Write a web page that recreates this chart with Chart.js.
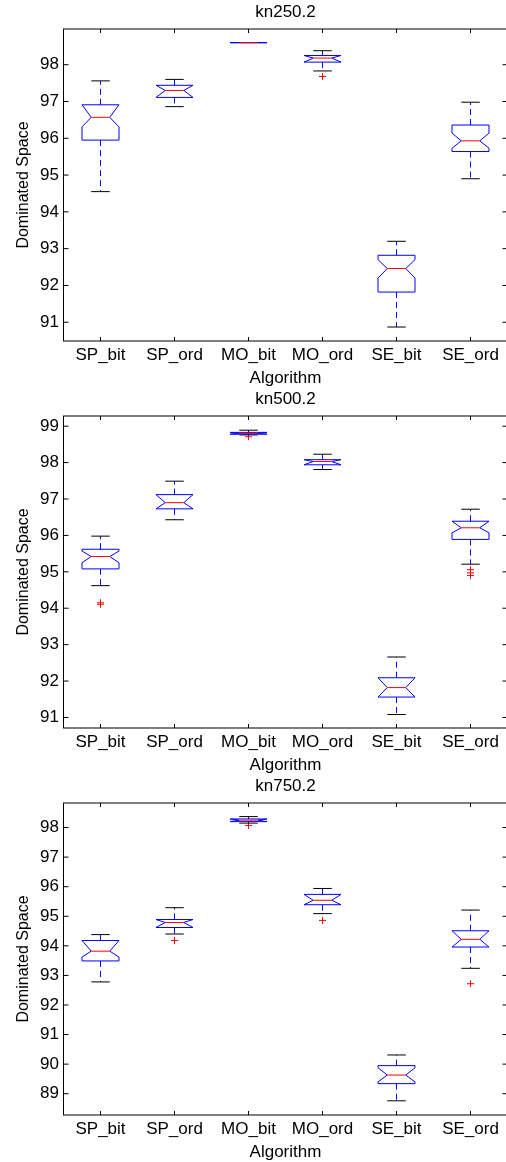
<!DOCTYPE html>
<html>
<head>
<meta charset="utf-8">
<script src="https://cdn.jsdelivr.net/npm/chart.js@4.4.0/dist/chart.umd.min.js"></script>
<style>
  html, body { margin: 0; padding: 0; background: #fff; width: 506px; height: 1162px; overflow: hidden; }
  canvas { display: block; }
</style>
</head>
<body>
<canvas id="kn250" width="512" height="387"></canvas>
<canvas id="kn500" width="512" height="387"></canvas>
<canvas id="kn750" width="512" height="387"></canvas>
<script>
// --- DATA ---

const algorithms = ['SP_bit', 'SP_ord', 'MO_bit', 'MO_ord', 'SE_bit', 'SE_ord'];

// kn250.2
const kn250Range = [90.49, 98.97];
const kn250Low = [94.55, 96.86, 98.60, 97.83, 90.87, 94.90];
const kn250Q1 = [95.95, 97.11, 98.60, 98.07, 91.82, 95.64];
const kn250NotchLow = [96.31, 97.11, 98.60, 98.07, 92.20, 95.73];
const kn250Median = [96.57, 97.30, 98.60, 98.18, 92.46, 95.93];
const kn250NotchHigh = [96.91, 97.44, 98.60, 98.25, 92.70, 96.14];
const kn250Q3 = [96.91, 97.44, 98.60, 98.25, 92.82, 96.36];
const kn250High = [97.56, 97.60, 98.60, 98.38, 93.20, 96.98];
const kn250OutlierAlg = ['MO_ord'];
const kn250OutlierVal = [97.68];

// kn500.2
const kn500Range = [90.71, 99.28];
const kn500Low = [94.62, 96.43, 98.76, 97.81, 91.08, 95.21];
const kn500Q1 = [95.08, 96.73, 98.78, 97.94, 91.56, 95.89];
const kn500NotchLow = [95.25, 96.73, 98.78, 97.94, 91.56, 96.07];
const kn500Median = [95.42, 96.90, 98.80, 98.03, 91.82, 96.21];
const kn500NotchHigh = [95.57, 97.12, 98.83, 98.08, 92.09, 96.39];
const kn500Q3 = [95.62, 97.12, 98.83, 98.08, 92.09, 96.39];
const kn500High = [95.98, 97.49, 98.89, 98.23, 92.66, 96.72];
const kn500OutlierAlg = ['SP_bit', 'SP_bit', 'MO_bit', 'SE_ord', 'SE_ord', 'SE_ord'];
const kn500OutlierVal = [94.15, 94.11, 98.71, 95.06, 94.97, 94.90];

// kn750.2
const kn750Range = [88.28, 98.83];
const kn750Low = [92.78, 94.40, 98.15, 95.09, 88.76, 93.24];
const kn750Q1 = [93.49, 94.62, 98.20, 95.39, 89.34, 93.96];
const kn750NotchLow = [93.62, 94.62, 98.20, 95.39, 89.40, 93.96];
const kn750Median = [93.82, 94.79, 98.25, 95.54, 89.63, 94.22];
const kn750NotchHigh = [94.18, 94.89, 98.29, 95.74, 89.88, 94.51];
const kn750Q3 = [94.18, 94.89, 98.29, 95.74, 89.95, 94.51];
const kn750High = [94.38, 95.29, 98.37, 95.94, 90.31, 95.21];
const kn750OutlierAlg = ['SP_ord', 'MO_bit', 'MO_ord', 'SE_ord'];
const kn750OutlierVal = [94.18, 98.07, 94.86, 92.72];

// --- PLUGINS ---

const fontFamily = "'Liberation Sans', Arial, Helvetica, sans-serif";
Chart.defaults.font.family = fontFamily;
Chart.defaults.color = '#000';

function line(ctx, x1, y1, x2, y2) {
    ctx.beginPath();
    ctx.moveTo(x1, y1);
    ctx.lineTo(x2, y2);
    ctx.stroke();
}

// notched boxes, whiskers and medians, placed with the chart's own scales
function makeBoxPlugin(s) {
    return {
        id: 'notchedBoxes',
        afterDatasetsDraw(chart) {
            const { ctx, scales: { x, y } } = chart;
            const w = (x.getPixelForValue(1) - x.getPixelForValue(0)) * 0.25;
            const py = v => y.getPixelForValue(v);
            ctx.save();
            ctx.lineWidth = 1;
            s.median.forEach((m, i) => {
                const cx = x.getPixelForValue(i);
                const lo = py(s.low[i]), q1 = py(s.q1[i]), nLo = py(s.notchLow[i]);
                const med = py(m), nHi = py(s.notchHigh[i]), q3 = py(s.q3[i]), hi = py(s.high[i]);

                // whiskers
                ctx.strokeStyle = '#0000ff';
                ctx.setLineDash([6, 4]);
                line(ctx, cx, q3, cx, hi);
                line(ctx, cx, q1, cx, lo);
                ctx.setLineDash([]);
                ctx.strokeStyle = '#000';
                line(ctx, cx - w / 2, hi, cx + w / 2, hi);
                line(ctx, cx - w / 2, lo, cx + w / 2, lo);

                // notched box
                ctx.strokeStyle = '#0000ff';
                ctx.beginPath();
                ctx.moveTo(cx - w, q3);
                ctx.lineTo(cx + w, q3);
                ctx.lineTo(cx + w, nHi);
                ctx.lineTo(cx + w / 2, med);
                ctx.lineTo(cx + w, nLo);
                ctx.lineTo(cx + w, q1);
                ctx.lineTo(cx - w, q1);
                ctx.lineTo(cx - w, nLo);
                ctx.lineTo(cx - w / 2, med);
                ctx.lineTo(cx - w, nHi);
                ctx.closePath();
                ctx.stroke();

                // median
                ctx.strokeStyle = '#ff0000';
                line(ctx, cx - w / 2, med, cx + w / 2, med);
            });
            ctx.restore();
        }
    };
}

// boxed axes with inward tick marks, and a title centred over the plot area
const framePlugin = {
    id: 'frame',
    afterDraw(chart) {
        const { ctx, chartArea: a, scales: { x, y } } = chart;
        ctx.save();
        ctx.strokeStyle = '#000';
        ctx.lineWidth = 1;
        ctx.strokeRect(a.left, a.top, a.right - a.left, a.bottom - a.top);
        y.ticks.forEach(t => {
            const p = y.getPixelForValue(t.value);
            line(ctx, a.left, p, a.left + 5, p);
            line(ctx, a.right - 5, p, a.right, p);
        });
        x.ticks.forEach((t, i) => {
            const p = x.getPixelForTick(i);
            line(ctx, p, a.top, p, a.top + 4);
            line(ctx, p, a.bottom - 4, p, a.bottom);
        });
        ctx.fillStyle = '#000';
        ctx.font = '17px ' + fontFamily;
        ctx.textAlign = 'center';
        ctx.textBaseline = 'middle';
        ctx.fillText(chart.options.plugins.frame.title, (a.left + a.right) / 2, 12);
        ctx.restore();
    }
};

// --- CHARTS ---

function buildChart(id, title, range, stats, outAlg, outVal) {
    return new Chart(document.getElementById(id), {
        type: 'scatter',
        data: {
            datasets: [{
                data: outAlg.map((a, i) => ({ x: a, y: outVal[i] })),
                pointStyle: 'cross',
                radius: 3.5,
                hoverRadius: 3.5,
                borderColor: '#ff0000',
                backgroundColor: '#ff0000',
                borderWidth: 1
            }]
        },
        options: {
            responsive: false,
            animation: false,
            devicePixelRatio: 1,
            events: [],
            layout: { padding: { top: 29, right: 2, bottom: 0, left: 0 } },
            plugins: {
                legend: { display: false },
                tooltip: { enabled: false },
                title: { display: false },
                frame: { title: title }
            },
            scales: {
                x: {
                    type: 'category',
                    labels: algorithms,
                    offset: true,
                    grid: { display: false, drawTicks: false },
                    border: { display: false },
                    ticks: { color: '#000', font: { size: 17 }, padding: 4, maxRotation: 0, autoSkip: false },
                    title: {
                        display: true,
                        text: 'Algorithm',
                        color: '#000',
                        font: { size: 17, lineHeight: 1 },
                        padding: { top: 0, bottom: 0.5 }
                    },
                    afterFit: s => { s.height = 46; }
                },
                y: {
                    min: range[0],
                    max: range[1],
                    grid: { display: false, drawTicks: false },
                    border: { display: false },
                    ticks: { stepSize: 1, includeBounds: false, color: '#000', font: { size: 17 }, padding: 4.5 },
                    title: {
                        display: true,
                        text: 'Dominated Space',
                        color: '#000',
                        font: { size: 16 },
                        padding: { top: 14, bottom: 0 }
                    },
                    afterFit: s => { s.width = 63.5; }
                }
            }
        },
        plugins: [makeBoxPlugin(stats), framePlugin]
    });
}

buildChart('kn250', 'kn250.2', kn250Range, {
    low: kn250Low, q1: kn250Q1, notchLow: kn250NotchLow, median: kn250Median,
    notchHigh: kn250NotchHigh, q3: kn250Q3, high: kn250High
}, kn250OutlierAlg, kn250OutlierVal);

buildChart('kn500', 'kn500.2', kn500Range, {
    low: kn500Low, q1: kn500Q1, notchLow: kn500NotchLow, median: kn500Median,
    notchHigh: kn500NotchHigh, q3: kn500Q3, high: kn500High
}, kn500OutlierAlg, kn500OutlierVal);

buildChart('kn750', 'kn750.2', kn750Range, {
    low: kn750Low, q1: kn750Q1, notchLow: kn750NotchLow, median: kn750Median,
    notchHigh: kn750NotchHigh, q3: kn750Q3, high: kn750High
}, kn750OutlierAlg, kn750OutlierVal);
</script>
</body>
</html>
